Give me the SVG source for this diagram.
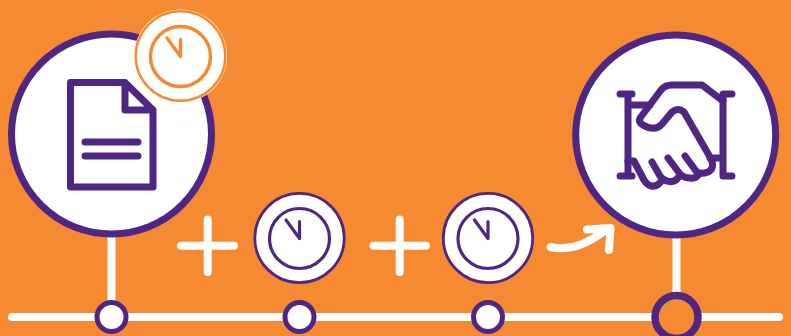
<svg xmlns="http://www.w3.org/2000/svg" width="791" height="336" viewBox="0 0 791 336">
<style>
.w{fill:none;stroke:#fff;stroke-width:8;stroke-linecap:round;stroke-linejoin:round}
.l{fill:none;stroke:#fff;stroke-width:8;stroke-linecap:round}
.big{fill:#fff;stroke:#4f2683;stroke-width:7}
.dot{fill:#fff;stroke:#4f2683;stroke-width:5}
.ic{fill:none;stroke:#4f2683;stroke-width:7;stroke-linecap:round;stroke-linejoin:round}
.pc{fill:none;stroke:#4f2683;stroke-width:3.200;stroke-linecap:round;stroke-linejoin:round}
.oc{fill:none;stroke:#f68a33;stroke-width:3.400;stroke-linecap:round;stroke-linejoin:round}
</style>
<defs>
<g id="clock"><circle r="30"/><path d="M-13.500-18.500L0 0V-17"/></g>
</defs>
<rect width="791" height="336" fill="#f68a33"/>
<g id="connectors">
<path class="l" d="M12 317H779"/>
<path class="l" d="M111.500 236V316" stroke-linecap="butt"/>
<path class="l" d="M676.500 236V296" stroke-linecap="butt"/>
<path class="w" d="M550.500 247C572 252 590 242 607 229M587 229.500L610.500 228L609 250"/>
</g>
<g id="node-document">
<circle class="big" cx="111.500" cy="134" r="100"/>
<path class="ic" d="M70.500 82.500H125L153 110V187H70.500ZM125 82.500V110H153"/>
<path class="ic" d="M85 142H138M85 156H138"/>
</g>
<g id="node-clock-top">
<circle cx="180.500" cy="56" r="46.500" fill="#fff"/>
<circle cx="180.500" cy="56" r="44.800" fill="none" stroke="#f68a33" stroke-width="2.400"/>
<use href="#clock" x="180.500" y="56.500" class="oc"/>
</g>
<g id="node-handshake">
<circle class="big" cx="675.700" cy="135" r="100"/>
<path class="ic" d="M620 94H632M628 94V176M620 176H632M723 94H732M723 94V176M723 176H732M628 105H650M710 158H723"/>
<path class="ic" d="M723 101L702 85H672Q665 85 661 90L640 118Q638 122 643 125Q655 132 662 124L672 112Q678 107 684 112L710 157Q716 168 708 172Q700 175 696 171L685 156M696 171L699 174Q696 179 690 178Q684 178 680 174L668 158M680 174Q676 184 667 181Q663 180 660 176L652 162M662 180Q658 187 651 186Q647 185 644 180L634 161H628"/>
</g>
<g id="plus-1"><path class="w" d="M181 245.700H234M207.700 219.500V272"/></g>
<g id="node-clock-1">
<circle cx="299.500" cy="238" r="44.700" fill="#fff" stroke="#4f2683" stroke-width="2.800"/>
<use href="#clock" x="299.500" y="238.500" class="pc"/>
</g>
<g id="plus-2"><path class="w" d="M373.500 245.700H426M399.700 219.500V272"/></g>
<g id="node-clock-2">
<circle cx="488" cy="238" r="44.700" fill="#fff" stroke="#4f2683" stroke-width="2.800"/>
<use href="#clock" x="488" y="238.500" class="pc"/>
</g>
<g id="node-step-1"><circle class="dot" cx="111.500" cy="317" r="14.500"/></g>
<g id="node-step-2"><circle class="dot" cx="299.500" cy="317" r="14.500"/></g>
<g id="node-step-3"><circle class="dot" cx="488" cy="317" r="14.500"/></g>
<g id="node-step-4"><circle cx="676.500" cy="317" r="21.500" fill="#f68a33" stroke="#4f2683" stroke-width="7.500"/></g>
</svg>
